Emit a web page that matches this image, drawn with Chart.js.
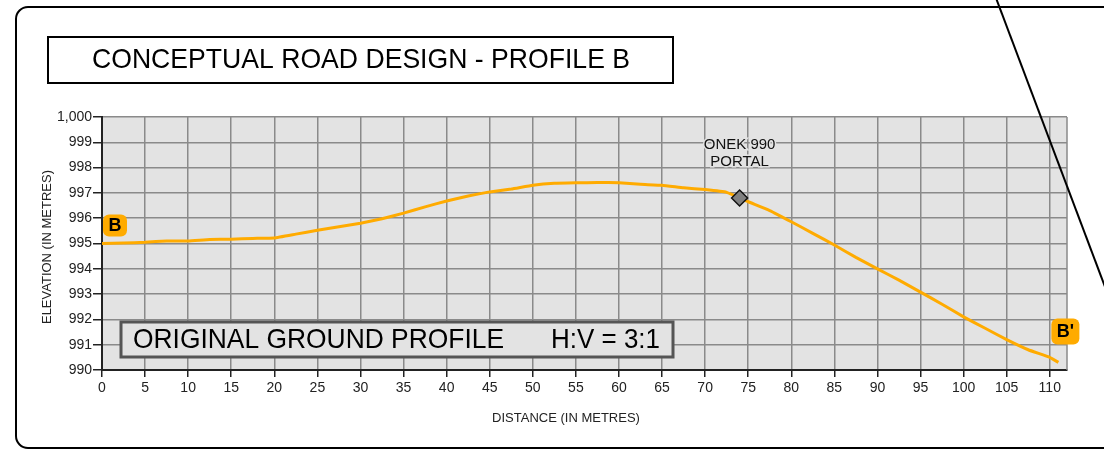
<!DOCTYPE html>
<html>
<head>
<meta charset="utf-8">
<script src="https://cdn.jsdelivr.net/npm/chart.js@4.4.0/dist/chart.umd.min.js"></script>
<style>
  body { margin: 0; background: #fff; }
  canvas { display: block; }
</style>
</head>
<body>
<canvas id="profil" width="1104" height="449"></canvas>
<script>
// distance along profile (m) and ground elevation (m)
var distance = [0, 2.5, 5, 7.5, 10, 12.5, 15, 17.5, 20, 22.5, 25, 27.5, 30, 32.5, 35, 37.5, 40, 42.5, 45, 47.5,
                50, 52.5, 55, 57.5, 60, 62.5, 65, 67.5, 70, 72.5, 75, 77.5, 80, 82.5, 85, 87.5, 90, 92.5, 95, 97.5,
                100, 102.5, 105, 107.5, 110, 111];
var elevation = [995.0, 995.02, 995.05, 995.1, 995.1, 995.16, 995.17, 995.2, 995.22, 995.37, 995.52, 995.66, 995.8, 995.98, 996.2, 996.45, 996.68, 996.88, 997.04, 997.15,
                 997.3, 997.38, 997.4, 997.41, 997.4, 997.34, 997.3, 997.2, 997.13, 997.02, 996.65, 996.3, 995.86, 995.4, 994.94, 994.45, 994.0, 993.55, 993.08, 992.6,
                 992.1, 991.65, 991.2, 990.8, 990.5, 990.3];

var portalX = [74];
var portalY = [996.8];
var portalLabel = ['ONEK 990', 'PORTAL'];

var startLabel = 'B';
var endLabel = "B'";

var punkty = distance.map(function (d, i) { return {x: d, y: elevation[i]}; });
var portal = portalX.map(function (d, i) { return {x: d, y: portalY[i]}; });

var FONT = '"Liberation Sans", Arial, sans-serif';
var TLO = '#e3e3e3';

function znaczek(ctx, tekst, x, y, w, h) {
    ctx.fillStyle = '#ffab00';
    ctx.beginPath();
    ctx.roundRect(x, y, w, h, 6);
    ctx.fill();
    ctx.fillStyle = '#000';
    ctx.font = 'bold 18px ' + FONT;
    ctx.textAlign = 'center';
    ctx.textBaseline = 'middle';
    ctx.fillText(tekst, x + w / 2, y + h / 2 + 1);
}

// tekst dopasowany do szerokosci (troche zwezony jak w oryginale)
function napis(ctx, tekst, x, y, size, width) {
    ctx.font = size + 'px ' + FONT;
    var m = ctx.measureText(tekst).width;
    ctx.save();
    ctx.translate(x, y);
    ctx.scale(width / m, 1);
    ctx.textAlign = 'left';
    ctx.textBaseline = 'middle';
    ctx.fillText(tekst, 0, 0);
    ctx.restore();
}

var dodatki = {
    id: 'dodatki',
    beforeDraw: function (chart) {
        var ctx = chart.ctx, a = chart.chartArea;
        ctx.save();
        ctx.fillStyle = TLO;
        ctx.fillRect(a.left, a.top, a.right - a.left, a.bottom - a.top);
        ctx.restore();
    },
    afterDraw: function (chart) {
        var ctx = chart.ctx, a = chart.chartArea;
        var sx = chart.scales.x, sy = chart.scales.y;
        ctx.save();

        // prawa krawedz wykresu
        ctx.strokeStyle = '#8a8a8a';
        ctx.lineWidth = 1.5;
        ctx.beginPath();
        ctx.moveTo(a.right, a.top);
        ctx.lineTo(a.right, a.bottom);
        ctx.stroke();

        // ramka zewnetrzna
        ctx.strokeStyle = '#000';
        ctx.lineWidth = 2;
        ctx.beginPath();
        ctx.roundRect(16, 7, 1200, 441, 12);
        ctx.stroke();

        // ukosna linia
        ctx.beginPath();
        ctx.moveTo(996, -2);
        ctx.lineTo(1110, 300);
        ctx.stroke();

        // tytul
        ctx.fillStyle = '#fff';
        ctx.fillRect(48, 37, 625, 46);
        ctx.strokeRect(48, 37, 625, 46);
        ctx.fillStyle = '#000';
        napis(ctx, 'CONCEPTUAL ROAD DESIGN - PROFILE B', 92, 60, 27.5, 538);

        // ramka dolna
        ctx.fillStyle = TLO;
        ctx.fillRect(121, 322, 552, 35);
        ctx.strokeStyle = '#555';
        ctx.lineWidth = 3;
        ctx.strokeRect(121, 322, 552, 35);
        ctx.fillStyle = '#000';
        napis(ctx, 'ORIGINAL GROUND PROFILE', 133, 340, 27.5, 371);
        napis(ctx, 'H:V = 3:1', 551, 340, 27.5, 109);

        // tytuly osi
        ctx.fillStyle = '#222';
        ctx.font = '13px ' + FONT;
        ctx.textAlign = 'center';
        ctx.textBaseline = 'middle';
        ctx.fillText('DISTANCE (IN METRES)', 566, 418);
        ctx.save();
        ctx.translate(47, 247);
        ctx.rotate(-Math.PI / 2);
        ctx.fillText('ELEVATION (IN METRES)', 0, 0);
        ctx.restore();

        // portal
        var px = sx.getPixelForValue(portalX[0]);
        var py = sy.getPixelForValue(portalY[0]);
        ctx.font = '15px ' + FONT;
        ctx.lineWidth = 3;
        ctx.strokeStyle = TLO;
        ctx.fillStyle = '#111';
        portalLabel.forEach(function (t, i) {
            ctx.strokeText(t, px, py - 53 + i * 17);
            ctx.fillText(t, px, py - 53 + i * 17);
        });

        // znaczniki B i B'
        var bx = sx.getPixelForValue(distance[0]);
        var by = sy.getPixelForValue(elevation[0]);
        znaczek(ctx, startLabel, bx + 1, by - 29, 24, 22);
        var ex = sx.getPixelForValue(distance[distance.length - 1]);
        var ey = sy.getPixelForValue(elevation[elevation.length - 1]);
        znaczek(ctx, endLabel, ex - 7, ey - 44, 28, 26);

        ctx.restore();
    }
};

var myChart = new Chart(document.getElementById('profil'), {
    type: 'scatter',
    data: {
        datasets: [{
            type: 'scatter',
            data: portal,
            pointStyle: 'rectRot',
            pointRadius: 8,
            backgroundColor: '#808080',
            borderColor: '#111',
            borderWidth: 1.5
        }, {
            type: 'line',
            data: punkty,
            borderColor: '#ffab00',
            borderWidth: 3,
            pointRadius: 0,
            tension: 0.1,
            fill: false
        }]
    },
    options: {
        responsive: false,
        animation: false,
        layout: {
            padding: {left: 0, top: 117, right: 37, bottom: 0}
        },
        plugins: {
            legend: {display: false},
            tooltip: {enabled: false}
        },
        scales: {
            x: {
                type: 'linear',
                min: 0,
                max: 112,
                afterFit: function (s) { s.height = 79; },
                ticks: {
                    stepSize: 5,
                    includeBounds: false,
                    color: '#222',
                    font: {family: FONT, size: 14},
                    padding: 3,
                    maxRotation: 0
                },
                grid: {
                    color: '#8a8a8a',
                    lineWidth: 1.5,
                    tickLength: 7,
                    tickColor: '#222',
                    tickWidth: 1.5
                },
                border: {color: '#222', width: 2}
            },
            y: {
                min: 990,
                max: 1000,
                afterFit: function (s) { s.width = 102; },
                ticks: {
                    stepSize: 1,
                    color: '#222',
                    font: {family: FONT, size: 14},
                    padding: 1
                },
                grid: {
                    color: '#8a8a8a',
                    lineWidth: 1.5,
                    tickLength: 9,
                    tickColor: '#222',
                    tickWidth: 1.5
                },
                border: {color: '#222', width: 2}
            }
        }
    },
    plugins: [dodatki]
});
</script>
</body>
</html>
